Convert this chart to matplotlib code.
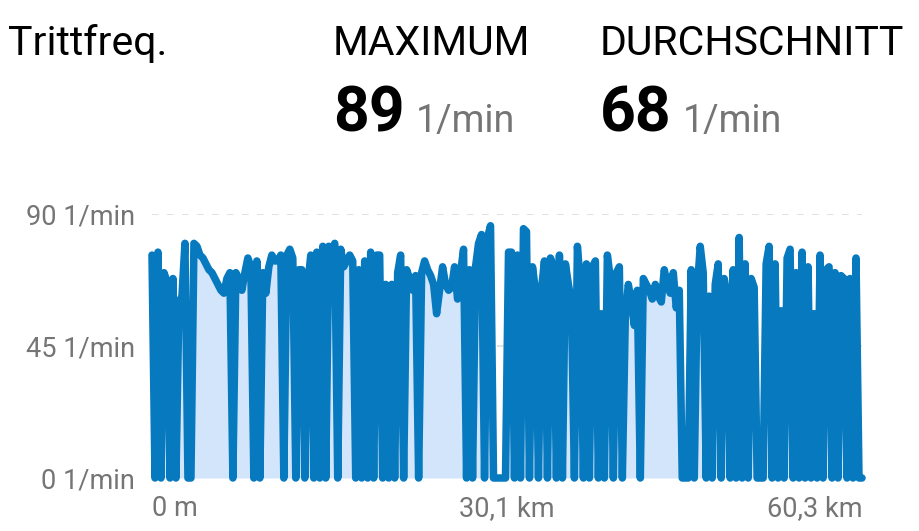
import numpy as np
import matplotlib
matplotlib.use("Agg")
import matplotlib.pyplot as plt

plt.rcParams['font.family'] = ['Roboto', 'DejaVu Sans']

cadence = [
    76, 0, 77, 0, 70, 67, 0, 68, 0, 60,
    62, 80, 0, 0, 80, 79, 76, 75, 73, 71,
    70, 68, 66, 64, 63, 68, 70, 0, 70, 68,
    64, 70, 75, 72, 0, 74, 0, 70, 63, 72,
    76, 74, 74, 76, 0, 76, 78, 75, 0, 71,
    71, 0, 66, 76, 0, 77, 0, 79, 0, 79,
    77, 80, 0, 78, 72, 74, 76, 74, 0, 71,
    0, 74, 0, 77, 0, 76, 76, 0, 66, 0,
    66, 0, 70, 76, 0, 71, 68, 64, 69, 0,
    70, 74, 71, 69, 66, 56, 64, 72, 66, 64,
    65, 72, 61, 70, 78, 0, 71, 0, 72, 80,
    83, 0, 82, 86, 0, 0, 0, 0, 0, 77,
    77, 0, 76, 0, 85, 84, 0, 72, 64, 0,
    64, 74, 0, 75, 72, 0, 76, 0, 73, 66,
    60, 0, 79, 66, 0, 73, 0, 72, 74, 0,
    56, 0, 76, 68, 0, 70, 72, 0, 55, 66,
    60, 52, 64, 0, 68, 66, 64, 61, 66, 62,
    60, 71, 66, 63, 70, 58, 64, 0, 0, 0,
    71, 0, 64, 79, 70, 0, 62, 0, 66, 73,
    0, 68, 62, 0, 71, 0, 82, 0, 73, 0,
    68, 65, 0, 0, 0, 73, 79, 0, 73, 0,
    57, 0, 75, 78, 0, 70, 0, 77, 0, 72,
    0, 56, 0, 76, 0, 71, 72, 0, 70, 0,
    69, 68, 0, 68, 0, 75, 0, 0,
]
total_km = 60.3
distance = np.linspace(0, total_km, len(cadence))

y_ticks = [0, 45, 90]
y_labels = ['0 1/min', '45 1/min', '90 1/min']
x_ticks = [0, 30.1, 60.3]
x_labels = ['0 m', '30,1 km', '60,3 km']

title = 'Trittfreq.'
max_value = 89
avg_value = 68
unit = '1/min'

W, H = 919, 531
fig = plt.figure(figsize=(W / 100, H / 100), dpi=100)

# Achse in Pixeln: links 152, rechts 862, 0 bei y=478, 90 bei y=214
ax = fig.add_axes([152 / W, 1 - 478 / H, 710 / W, 264 / H])
ax.set_xlim(0, total_km)
ax.set_ylim(0, 90)

line_col = '#0779bf'
fill_col = '#d3e5fb'
grey_txt = '#757575'

ax.fill_between(distance, cadence, 0, color=fill_col, lw=0, zorder=2)
ax.plot(distance, cadence, color=line_col, lw=5.4, solid_joinstyle='round',
        solid_capstyle='round', clip_on=False, zorder=3)

for v in y_ticks[1:]:
    ax.axhline(v, color='#dcdcdc', lw=1.2, ls=(0, (4, 5)), zorder=1)
ax.axhline(0, color='#cfcfcf', lw=1.5, zorder=1)

for s in ax.spines.values():
    s.set_visible(False)

ax.set_yticks(y_ticks)
ax.set_yticklabels(y_labels, fontsize=19.5, color=grey_txt)
ax.set_xticks(x_ticks)
ax.set_xticklabels(x_labels, fontsize=19.5, color=grey_txt)
ax.tick_params(axis='y', length=0, pad=12)
ax.tick_params(axis='x', length=0, pad=12)
xl = ax.get_xticklabels()
xl[0].set_ha('left')
xl[-1].set_ha('right')

# Kopfzeile
fig.text(8 / W, 1 - 55 / H, title, fontsize=29.5, color='black', va='baseline')
fig.text(333 / W, 1 - 55 / H, 'MAXIMUM', fontsize=29.5, color='black', va='baseline')
fig.text(600 / W, 1 - 55 / H, 'DURCHSCHNITT', fontsize=29.5, color='black', va='baseline')

fig.text(333 / W, 1 - 132 / H, str(max_value), fontsize=45, fontweight='bold',
         color='black', va='baseline')
fig.text(416 / W, 1 - 132 / H, unit, fontsize=27, color=grey_txt, va='baseline')
fig.text(600 / W, 1 - 132 / H, str(avg_value), fontsize=45, fontweight='bold',
         color='black', va='baseline')
fig.text(683 / W, 1 - 132 / H, unit, fontsize=27, color=grey_txt, va='baseline')

fig.savefig('out.png', dpi=100, facecolor='white')
